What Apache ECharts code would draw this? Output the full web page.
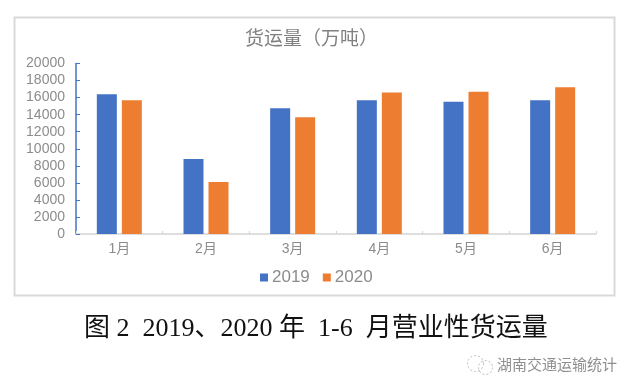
<!DOCTYPE html>
<html><head><meta charset="utf-8">
<style>html,body{margin:0;padding:0;background:#fff}#c{width:637px;height:390px}</style>
<script src="https://cdn.jsdelivr.net/npm/echarts@6/dist/echarts.min.js"></script>
</head><body><div id="c"></div>
<script>
const categories = ['1月','2月','3月','4月','5月','6月'];
const values2019 = [16400,8800,14750,15700,15500,15700];
const values2020 = [15700,6100,13700,16600,16700,17200];
const seriesNames = ['2019','2020'];
const chartTitle = '货运量（万吨）';
const caption = '图 2  2019、2020 年  1-6  月营业性货运量';
const watermark = '湖南交通运输统计';
const gray = '#8c8c8c';
const chart = echarts.init(document.getElementById('c'), null, {renderer:'canvas'});
chart.setOption({
  animation:false,
  backgroundColor:'#fff',
  title:[
    {text:chartTitle,left:240,top:23,textStyle:{fontFamily:'Noto Sans CJK SC',fontSize:19,fontWeight:'normal',color:'#808080'}},
    {text:caption,left:79,top:311,textStyle:{fontFamily:'"Liberation Serif","Noto Sans CJK SC"',fontSize:26,fontWeight:'normal',color:'#111'}},
    {text:watermark,left:492,top:352,textStyle:{fontFamily:'Noto Sans CJK SC',fontSize:15,fontWeight:'normal',color:'#8f8f8f'}}
  ],
  legend:{data:seriesNames,left:255,top:264,itemWidth:8,itemHeight:8,itemGap:13,icon:'rect',
    textStyle:{fontFamily:'"Liberation Sans"',fontSize:17,color:gray,padding:[0,0,0,-1]}},
  grid:{left:76,right:41,top:63.5,bottom:156},
  xAxis:{type:'category',data:categories,
    axisLine:{lineStyle:{color:'#d4d4d4',width:1.5}},
    axisTick:{show:true,inside:true,length:3,alignWithLabel:false,lineStyle:{color:'#d4d4d4'}},
    axisLabel:{fontFamily:'"Liberation Sans","Noto Sans CJK SC"',fontSize:14,color:gray,margin:8}},
  yAxis:{type:'value',min:0,max:20000,interval:2000,
    axisLine:{show:true,lineStyle:{color:'#4472C4',width:1.5}},
    axisTick:{show:true,inside:true,length:4,lineStyle:{color:'#4472C4'}},
    splitLine:{show:false},
    axisLabel:{fontFamily:'"Liberation Sans"',fontSize:14,color:gray,margin:11,formatter:function(v){return String(v);}}},
  series:[
    {name:seriesNames[0],type:'bar',data:values2019,barWidth:20,barGap:'25%',itemStyle:{color:'#4472C4'}},
    {name:seriesNames[1],type:'bar',data:values2020,barWidth:20,barGap:'25%',itemStyle:{color:'#ED7D31'}}
  ],
  graphic:[
    {type:'rect',left:13.5,top:16.5,z:-1,shape:{width:600,height:278},style:{fill:'#fff',stroke:'#d9d9d9',lineWidth:2}},
    {type:'circle',left:465,top:353,shape:{r:8},style:{fill:'none',stroke:'#bbb',lineWidth:1,lineDash:[2,2]}},
    {type:'circle',left:476,top:358,shape:{r:7},style:{fill:'none',stroke:'#bbb',lineWidth:1,lineDash:[2,2]}}
  ]
});
</script></body></html>
